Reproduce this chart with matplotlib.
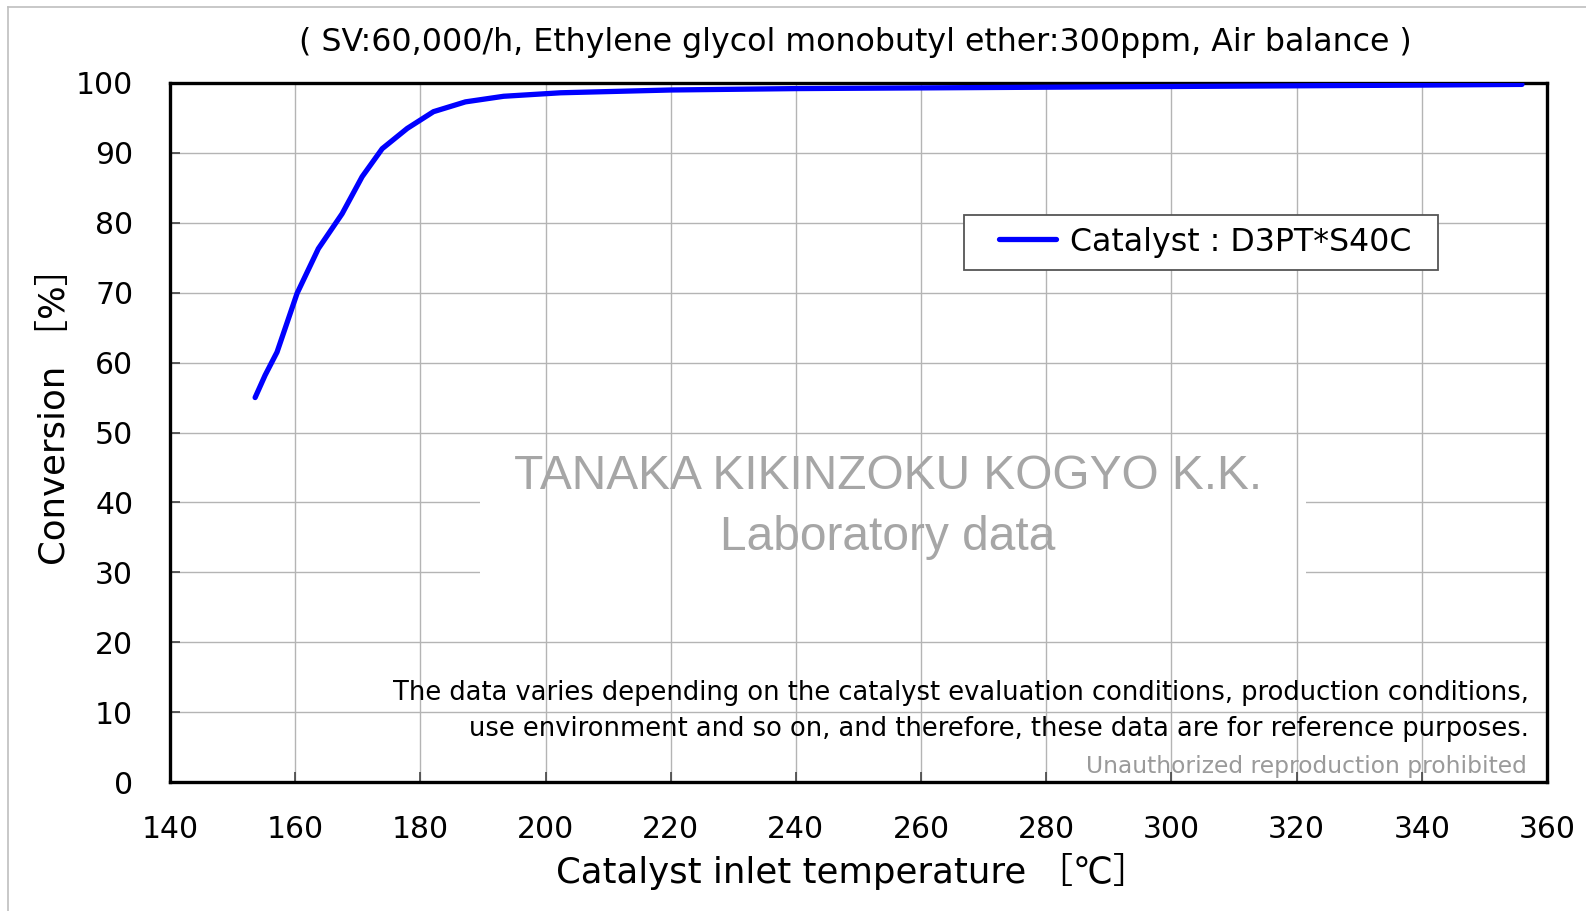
import matplotlib.pyplot as plt
from matplotlib.lines import Line2D
from matplotlib.patches import Rectangle

# data
temperature = [153.6, 155.2, 157.1, 160.3, 163.7, 167.5, 170.7, 173.9, 177.9,
               182.1, 187.2, 193.3, 202.4, 220, 240, 260, 280, 300, 320, 340, 356]
conversion = [55.0, 58.2, 61.5, 69.9, 76.3, 81.3, 86.6, 90.6, 93.5,
              95.9, 97.3, 98.1, 98.6, 99.0, 99.2, 99.3, 99.4, 99.5, 99.6, 99.7, 99.8]
series_label = "Catalyst : D3PT*S40C"

x_ticks = list(range(140, 361, 20))
y_ticks = list(range(0, 101, 10))

title = "( SV:60,000/h, Ethylene glycol monobutyl ether:300ppm, Air balance )"
note_lines = [
    "The data varies depending on the catalyst evaluation conditions, production conditions,",
    "use environment and so on, and therefore, these data are for reference purposes.",
]

W, H = 1586, 911
FAM = ["DejaVu Sans", "Noto Sans CJK JP"]

fig = plt.figure(figsize=(W / 100, H / 100), dpi=100)
ax = fig.add_axes([170 / W, 1 - 782 / H, (1547 - 170) / W, (782 - 83) / H])

ax.set_xlim(140, 360)
ax.set_ylim(0, 100)
ax.set_xticks(x_ticks)
ax.set_yticks(y_ticks)

# horizontal grid, then a white patch behind the watermark, then vertical grid
grid_kw = dict(color="#b4b4b4", lw=1.0)
for y in y_ticks[1:-1]:
    ax.axhline(y, zorder=0.5, **grid_kw)
ax.add_patch(Rectangle((189.5, 25), 132, 20, facecolor="white", edgecolor="none", zorder=0.6))
for x in x_ticks[1:-1]:
    ax.axvline(x, zorder=0.7, **grid_kw)

line, = ax.plot(temperature, conversion, color="#0000ff", lw=3.8, solid_capstyle="round",
                label=series_label, zorder=3)

for s in ax.spines.values():
    s.set_linewidth(2.4)
ax.tick_params(direction="in", length=7, width=1.2, labelsize=21.5, color="#444444")
ax.tick_params(axis="x", pad=24)
ax.tick_params(axis="y", pad=26.5)

ax.set_xlabel("Catalyst inlet temperature \uff3b\u2103\uff3d", fontsize=25.6,
              family=FAM, va="center")
ax.xaxis.set_label_coords(852 / W, 1 - 871 / H, transform=fig.transFigure)
ax.set_ylabel("Conversion \uff3b%\uff3d", fontsize=25.6, family=FAM, va="center")
ax.yaxis.set_label_coords(55 / W, 1 - 407 / H, transform=fig.transFigure)

fig.text(855 / W, 1 - 43 / H, title, ha="center", va="center", fontsize=22.8)

# legend: frame drawn separately to get the wide side padding of the original
fig.add_artist(Rectangle((964 / W, 1 - 270 / H), (1438 - 964) / W, (270 - 215) / H,
                         transform=fig.transFigure, facecolor="white",
                         edgecolor="#555555", lw=1.3, zorder=4))
leg = fig.legend(handles=[line], loc="center", bbox_to_anchor=(1205 / W, 1 - 242 / H),
                 fontsize=22.8, frameon=False, borderpad=0, handlelength=1.8,
                 handletextpad=0.45, borderaxespad=0)
leg.set_zorder(5)

# watermark
fig.text(888 / W, 1 - 477 / H, "TANAKA KIKINZOKU KOGYO K.K.", ha="center", va="center",
         fontsize=34.5, color="#a6a6a6", family="Liberation Sans", zorder=5)
fig.text(888 / W, 1 - 537 / H, "Laboratory data", ha="center", va="center",
         fontsize=34.5, color="#a6a6a6", family="Liberation Sans", zorder=5)

fig.text(1529 / W, 1 - 693 / H, note_lines[0], ha="right", va="center", fontsize=18.55)
fig.text(1529 / W, 1 - 729 / H, note_lines[1], ha="right", va="center", fontsize=18.55)
fig.text(1527 / W, 1 - 766 / H, "Unauthorized reproduction prohibited", ha="right",
         va="center", fontsize=16.8, color="#9a9a9a")

# light outer frame (top and left edges visible)
fig.add_artist(Line2D([8 / W, 1], [1 - 7 / H, 1 - 7 / H], color="#bfbfbf", lw=1.2))
fig.add_artist(Line2D([8 / W, 8 / W], [0, 1 - 7 / H], color="#bfbfbf", lw=1.2))

fig.savefig("out.png", dpi=100, facecolor="white")
